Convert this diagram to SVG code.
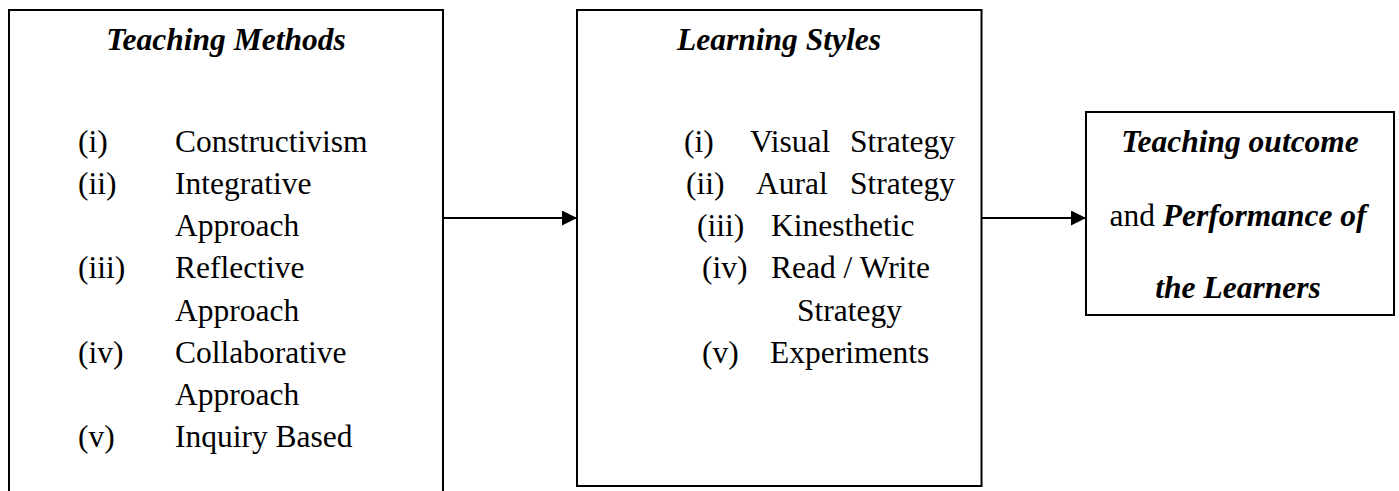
<svg xmlns="http://www.w3.org/2000/svg" width="1399" height="491" viewBox="0 0 1399 491">
<style>
  .box { fill: #ffffff; stroke: #000000; stroke-width: 2; }
  .t { font-family: "Liberation Serif", "Times New Roman", serif; font-size: 31.5px; fill: #000000; }
  .bi { font-weight: bold; font-style: italic; }
  .c { text-anchor: middle; }
  .conn { stroke: #000000; stroke-width: 2; fill: none; }
</style>
<defs>
  <marker id="arrow" markerWidth="15" markerHeight="15" refX="15" refY="7.5" orient="auto" markerUnits="userSpaceOnUse">
    <path d="M0,0 L15,7.5 L0,15 Z" fill="#000000"/>
  </marker>
</defs>
<rect width="1399" height="491" fill="#ffffff"/>

<g id="teaching-methods">
  <path class="box" d="M9,495 V10 H443 V495"/>
  <text class="t bi c" x="226" y="50">Teaching Methods</text>
  <text class="t" x="78" y="152">(i)</text>
  <text class="t" x="175" y="152">Constructivism</text>
  <text class="t" x="78" y="194">(ii)</text>
  <text class="t" x="175" y="194">Integrative</text>
  <text class="t" x="175" y="236">Approach</text>
  <text class="t" x="78" y="278">(iii)</text>
  <text class="t" x="175" y="278">Reflective</text>
  <text class="t" x="175" y="321">Approach</text>
  <text class="t" x="78" y="363">(iv)</text>
  <text class="t" x="175" y="363">Collaborative</text>
  <text class="t" x="175" y="405">Approach</text>
  <text class="t" x="78" y="447">(v)</text>
  <text class="t" x="175" y="447">Inquiry Based</text>
</g>

<g id="learning-styles">
  <rect class="box" x="577" y="10" width="404.5" height="476"/>
  <text class="t bi c" x="779" y="50">Learning Styles</text>
  <text class="t" x="684" y="152">(i)</text>
  <text class="t" x="750" y="152">Visual</text>
  <text class="t" x="850" y="152">Strategy</text>
  <text class="t" x="686" y="194">(ii)</text>
  <text class="t" x="756" y="194">Aural</text>
  <text class="t" x="850" y="194">Strategy</text>
  <text class="t" x="697" y="236">(iii)</text>
  <text class="t" x="771" y="236">Kinesthetic</text>
  <text class="t" x="702" y="278">(iv)</text>
  <text class="t" x="771" y="278">Read / Write</text>
  <text class="t" x="797" y="321">Strategy</text>
  <text class="t" x="702" y="363">(v)</text>
  <text class="t" x="770" y="363">Experiments</text>
</g>

<g id="outcome">
  <rect class="box" x="1086" y="112" width="308" height="203"/>
  <text class="t bi c" x="1240" y="152">Teaching outcome</text>
  <text class="t c" x="1238" y="226">and <tspan class="bi">Performance of</tspan></text>
  <text class="t bi c" x="1238" y="298">the Learners</text>
</g>

<g id="connectors">
  <line class="conn" x1="443" y1="218" x2="577" y2="218" marker-end="url(#arrow)"/>
  <line class="conn" x1="981.5" y1="218" x2="1086" y2="218" marker-end="url(#arrow)"/>
</g>
</svg>
